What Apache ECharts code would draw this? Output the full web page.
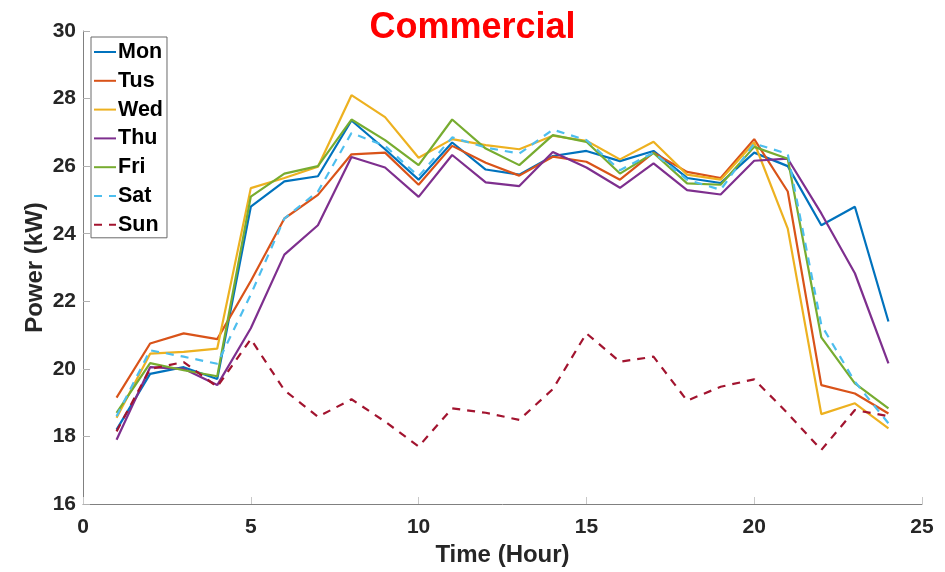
<!DOCTYPE html>
<html>
<head>
<meta charset="utf-8">
<script src="https://cdn.jsdelivr.net/npm/echarts@6/dist/echarts.min.js"></script>
<style>
  html, body { margin: 0; padding: 0; background: #fff; }
  #chart { width: 945px; height: 572px; }
</style>
</head>
<body>
<div id="chart"></div>
<script>
// Hourly power demand of a commercial building, one line per weekday
const hours = [1, 2, 3, 4, 5, 6, 7, 8, 9, 10, 11, 12, 13, 14, 15, 16, 17, 18, 19, 20, 21, 22, 23, 24];

const mon = [18.2, 19.85, 20.05, 19.7, 24.8, 25.55, 25.7, 27.35, 26.5, 25.6, 26.7, 25.9, 25.75, 26.3, 26.45, 26.15, 26.45, 25.65, 25.5, 26.4, 26.0, 24.25, 24.8, 21.4];
const tus = [19.15, 20.75, 21.05, 20.88, 22.6, 24.45, 25.15, 26.35, 26.4, 25.45, 26.6, 26.1, 25.72, 26.28, 26.13, 25.6, 26.4, 25.83, 25.65, 26.8, 25.25, 19.52, 19.27, 18.68];
const wed = [18.55, 20.45, 20.5, 20.6, 25.35, 25.65, 25.98, 28.1, 27.45, 26.25, 26.8, 26.62, 26.5, 26.9, 26.75, 26.2, 26.72, 25.75, 25.6, 26.7, 24.15, 18.66, 18.98, 18.24];
const thu = [17.9, 20.05, 20.0, 19.52, 21.2, 23.38, 24.25, 26.27, 25.96, 25.09, 26.33, 25.52, 25.41, 26.42, 25.96, 25.36, 26.08, 25.29, 25.16, 26.16, 26.22, 24.6, 22.83, 20.16];
const fri = [18.7, 20.17, 19.96, 19.78, 25.1, 25.78, 26.0, 27.38, 26.77, 26.03, 27.38, 26.52, 26.03, 26.92, 26.72, 25.78, 26.39, 25.49, 25.45, 26.57, 26.22, 20.93, 19.57, 18.83];
const sat = [18.6, 20.55, 20.36, 20.15, 22.2, 24.45, 25.25, 26.98, 26.6, 25.7, 26.85, 26.55, 26.37, 27.08, 26.77, 25.88, 26.4, 25.6, 25.3, 26.67, 26.36, 21.3, 19.62, 18.39];
const sun = [18.15, 20.0, 20.2, 19.47, 20.88, 19.37, 18.58, 19.1, 18.44, 17.7, 18.83, 18.7, 18.49, 19.4, 21.05, 20.21, 20.36, 19.06, 19.47, 19.69, 18.68, 17.6, 18.78, 18.6];

const dayNames = ['Mon', 'Tus', 'Wed', 'Thu', 'Fri', 'Sat', 'Sun'];
const dayValues = [mon, tus, wed, thu, fri, sat, sun];
const dayColors = ['#0072BD', '#D95319', '#EDB120', '#7E2F8E', '#77AC30', '#4DBEEE', '#A2142F'];
const dashedDays = ['Sat', 'Sun'];

const xTicks = { min: 0, max: 25, interval: 5 };
const yTicks = { min: 16, max: 30, interval: 2 };

const font = "'Liberation Sans', Arial, Helvetica, sans-serif";
const textDark = '#262626';

const series = dayNames.map((name, i) => ({
  name: name,
  type: 'line',
  symbol: 'none',
  showSymbol: false,
  data: hours.map((h, j) => [h, dayValues[i][j]]),
  lineStyle: {
    color: dayColors[i],
    width: 2.2,
    type: dashedDays.includes(name) ? [8, 7] : 'solid'
  },
  itemStyle: { color: dayColors[i] },
  emphasis: { disabled: true },
  animation: false
}));

const chart = echarts.init(document.getElementById('chart'), null, { renderer: 'canvas' });
chart.setOption({
  backgroundColor: '#ffffff',
  title: {
    text: 'Commercial',
    left: 'center',
    top: 5,
    textStyle: { color: '#FF0000', fontSize: 36, fontWeight: 'bold', fontFamily: font }
  },
  legend: {
    orient: 'vertical',
    left: 91,
    top: 37,
    padding: [4, 4, 2, 2],
    itemWidth: 22,
    itemHeight: 10,
    itemGap: 6.8,
    backgroundColor: '#ffffff',
    borderColor: '#6a6a6a',
    borderWidth: 1,
    borderRadius: 0,
    data: dayNames,
    itemStyle: { opacity: 0 },
    textStyle: { color: '#000000', fontSize: 21.5, fontWeight: 'bold', fontFamily: font, lineHeight: 22, padding: [0, 0, 0, -3] }
  },
  grid: { left: 83, right: 23, top: 31, bottom: 68, containLabel: false },
  xAxis: {
    type: 'value',
    min: xTicks.min,
    max: xTicks.max,
    interval: xTicks.interval,
    name: 'Time (Hour)',
    nameLocation: 'middle',
    nameGap: 39,
    nameMoveOverlap: false,
    nameTextStyle: { color: textDark, fontSize: 24, fontWeight: 'bold', fontFamily: font },
    axisLine: { show: true, onZero: false, lineStyle: { color: '#808080', width: 1 } },
    axisTick: { show: true, inside: true, length: 7, lineStyle: { color: '#c8c8c8' } },
    axisLabel: { color: textDark, fontSize: 21, fontWeight: 'bold', fontFamily: font, margin: 13 },
    splitLine: { show: false }
  },
  yAxis: {
    type: 'value',
    min: yTicks.min,
    max: yTicks.max,
    interval: yTicks.interval,
    name: 'Power (kW)',
    nameLocation: 'middle',
    nameGap: 36,
    nameMoveOverlap: false,
    nameTextStyle: { color: textDark, fontSize: 24, fontWeight: 'bold', fontFamily: font },
    axisLine: { show: true, onZero: false, lineStyle: { color: '#808080', width: 1 } },
    axisTick: { show: true, inside: true, length: 7, lineStyle: { color: '#b0b0b0' } },
    axisLabel: { color: textDark, fontSize: 21, fontWeight: 'bold', fontFamily: font, margin: 7 },
    splitLine: { show: false }
  },
  series: series
});
</script>
</body>
</html>
